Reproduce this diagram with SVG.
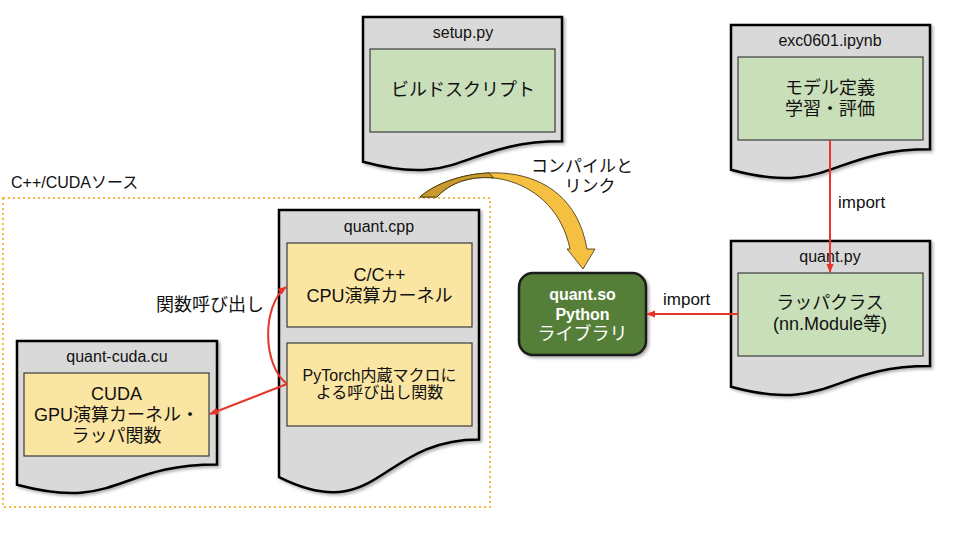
<svg xmlns="http://www.w3.org/2000/svg" width="960" height="540" viewBox="0 0 960 540">
<defs>
<style>
text{font-family:"Liberation Sans","Noto Sans CJK JP",sans-serif;fill:#111;text-anchor:middle}
.doc{fill:#d9d9d9;stroke:#000;stroke-width:2.5;filter:url(#sh)}
.gbox{fill:#c9dfb9;stroke:#3a3a3a;stroke-width:1.2}
.ybox{fill:#fbe5a3;stroke:#3a3a3a;stroke-width:1.2}
.t16{font-size:16px}
.t18{font-size:18px}
.red{fill:none;stroke:#e8352a;stroke-width:2}
.lbl{font-size:17px;text-anchor:start}
</style>
<filter id="sh" x="-10%" y="-10%" width="130%" height="130%">
<feDropShadow dx="2" dy="2" stdDeviation="1.5" flood-color="#000" flood-opacity="0.3"/>
</filter>
<marker id="ah" viewBox="0 0 10 10" refX="9" refY="5" markerWidth="9" markerHeight="9" markerUnits="userSpaceOnUse" orient="auto">
<path d="M0,1 L10,5 L0,9 Z" fill="#e8352a"/>
</marker>
</defs>
<rect width="960" height="540" fill="#fff"/>

<g id="group-src">
<rect x="3" y="198" width="487" height="309" fill="none" stroke="#f5b944" stroke-width="2" stroke-dasharray="2 3"/>
<text x="11" y="188" class="t16" style="text-anchor:start">C++/CUDAソース</text>
</g>

<g id="setup">
<path class="doc" d="M363,17 H562 V141.3 C462.5,141.3 462.5,188.7 363,161.8 Z"/>
<text x="463" y="38" class="t16">setup.py</text>
<rect class="gbox" x="370" y="49" width="185" height="83"/>
<text x="463" y="96" class="t18">ビルドスクリプト</text>
</g>

<g id="exc0601">
<path class="doc" d="M731,25 H930 V149.3 C830.5,149.3 830.5,196.7 731,169.8 Z"/>
<text x="830" y="46" class="t16">exc0601.ipynb</text>
<rect class="gbox" x="738" y="57" width="185" height="83"/>
<text x="830" y="94" class="t18">モデル定義</text>
<text x="830" y="115" class="t18">学習・評価</text>
</g>

<g id="quantpy">
<path class="doc" d="M731,241 H930 V366.1 C830.5,366.1 830.5,413.8 731,386.7 Z"/>
<text x="830" y="262" class="t16">quant.py</text>
<rect class="gbox" x="738" y="273" width="185" height="83"/>
<text x="830" y="309" class="t18">ラッパクラス</text>
<text x="830" y="330" class="t18">(nn.Module等)</text>
</g>

<g id="quantcpp">
<path class="doc" d="M279,210 H479 V439.4 C379,439.4 379,526.7 279,477.1 Z"/>
<text x="379" y="232" class="t16">quant.cpp</text>
<rect class="ybox" x="287" y="243" width="185" height="84"/>
<text x="379.5" y="281" class="t18">C/C++</text>
<text x="379.5" y="302" class="t18">CPU演算カーネル</text>
<rect class="ybox" x="287" y="343" width="185" height="83"/>
<text x="379.5" y="381" class="t16">PyTorch内蔵マクロに</text>
<text x="379.5" y="398" class="t16">よる呼び出し関数</text>
</g>

<g id="quantcuda">
<path class="doc" d="M17,341 H217 V464.5 C117,464.5 117,511.6 17,484.8 Z"/>
<text x="117" y="362" class="t16">quant-cuda.cu</text>
<rect class="ybox" x="24" y="373" width="185" height="83"/>
<text x="116.5" y="400" class="t18">CUDA</text>
<text x="116.5" y="421" class="t18">GPU演算カーネル・</text>
<text x="116.5" y="442" class="t18">ラッパ関数</text>
</g>

<g id="quantso">
<rect x="519" y="273" width="127" height="82" rx="14" fill="#557f37" stroke="#1a1a1a" stroke-width="2.5" filter="url(#sh)"/>
<text x="582.5" y="300" style="font-size:16px;font-weight:bold;fill:#fff">quant.so</text>
<text x="582.5" y="320" style="font-size:16px;font-weight:bold;fill:#fff">Python</text>
<text x="582.5" y="340" class="t18" style="fill:#fff">ライブラリ</text>
</g>

<g id="connectors">
<g id="compile-arrow">
<path d="M420,197 C455,165 570,150 587,249 L595,249 L583,269 L567,249 L570,249 C555,175 470,160 437,197 Z" fill="#f5bf42" stroke="#3a2e0a" stroke-width="0.8"/>
<path d="M420,197 C434,184.2 460.8,174.1 489,172.9 L493.7,178 C471.7,175.7 450.2,182.2 437,197 Z" fill="#c99a2e" stroke="#3a2e0a" stroke-width="0.8"/>
<text x="582" y="172" style="font-size:17px">コンパイルと</text>
<text x="590" y="192" style="font-size:17px">リンク</text>
</g>
<path class="red" d="M830,140 V272" marker-end="url(#ah)"/>
<text x="838" y="208" class="lbl">import</text>
<path class="red" d="M738,314 H647" marker-end="url(#ah)"/>
<text x="663" y="305" class="lbl">import</text>
<path class="red" d="M287,384 C262,365 262,305 286,287" marker-end="url(#ah)"/>
<path class="red" d="M287,384 L210,414" marker-end="url(#ah)"/>
<text x="210" y="311" class="t18">関数呼び出し</text>
</g>
</svg>
